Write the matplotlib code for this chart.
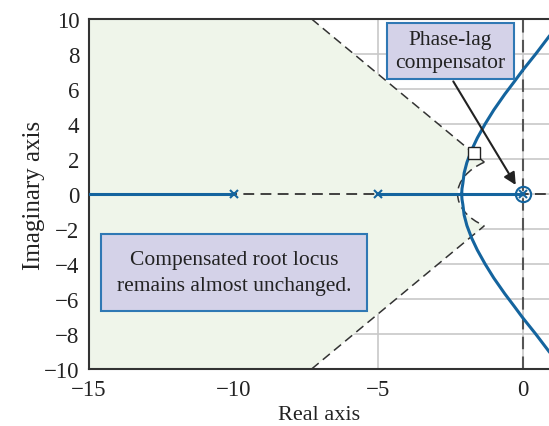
import numpy as np
import matplotlib.pyplot as plt
from matplotlib.patches import Wedge, Arc, Rectangle

# Polos em malha aberta e compensador
polos = [-10, -5]
polo_comp = 0.0
zero_comp = 0.0

# Ramos complexos do lugar das raízes
ramo_sup_x = [-2.11, -2.10, -2.07, -2.025, -1.93, -1.77, -1.57, -1.30, -1.00, -0.62, -0.30, 0.0, 0.45, 0.91]
ramo_sup_y = [0.0, 0.3, 0.6, 1.2, 1.8, 2.5, 3.2, 4.0, 4.8, 5.7, 6.4, 7.07, 8.0, 9.0]
ramo_inf_x = [-2.11, -2.10, -2.07, -2.025, -1.93, -1.77, -1.57, -1.30, -1.00, -0.62, -0.30, 0.0, 0.45, 0.91]
ramo_inf_y = [0.0, -0.3, -0.6, -1.2, -1.8, -2.5, -3.2, -4.0, -4.8, -5.7, -6.4, -7.07, -8.0, -9.0]

# Trechos no eixo real
eixo_real_azul = [(-15, -10), (-5, 0)]

# Região de projeto (zeta e wn)
x_topo = -7.3
raio_wn = 2.25
ponto_proj = (-1.70, 2.34)

xticks = [-15, -10, -5, 0]
yticks = [-10, -8, -6, -4, -2, 0, 2, 4, 6, 8, 10]

azul = '#14649e'
escuro = '#333333'
plt.rcParams['font.family'] = ['Liberation Serif', 'DejaVu Serif']

fig = plt.figure(figsize=(5.49, 4.27), dpi=100)
ax = fig.add_axes([89/549, 57/427, 460/549, 350/427])
ax.set_xlim(-15, 0.91)
ax.set_ylim(-10, 10)

# Grade
ax.set_xticks(xticks)
ax.set_yticks(yticks)
ax.set_yticklabels([str(v).replace('-', '\u2212') for v in yticks])
ax.set_xticklabels([str(v).replace('-', '\u2212') for v in xticks])
ax.grid(True, color='#c8c8c8', lw=1.2)
ax.set_axisbelow(True)
ax.tick_params(length=0, labelsize=16.5, pad=7, colors='#222222')

# Região sombreada
ang = np.degrees(np.arctan2(10, -x_topo))
ax.add_patch(Wedge((0, 0), 40, 180 - ang, 180 + ang, width=40 - raio_wn,
                   facecolor='#eff5ea', edgecolor='none', zorder=1))
xs = raio_wn * np.cos(np.radians(180 - ang))
ys = raio_wn * np.sin(np.radians(180 - ang))
trac = (0, (6, 3.5))
ax.plot([x_topo, xs], [10, ys], color=escuro, lw=1.1, ls=trac, zorder=2)
ax.plot([x_topo, xs], [-10, -ys], color=escuro, lw=1.1, ls=trac, zorder=2)
ax.add_patch(Arc((0, 0), 2 * raio_wn, 2 * raio_wn, theta1=180 - ang, theta2=180 + ang,
                 color=escuro, lw=1.1, ls=trac, zorder=2))

# Eixos tracejados
ax.axhline(0, color=escuro, lw=1.3, ls=trac, zorder=2)
ax.axvline(0, color='#555555', lw=1.5, ls=trac, zorder=2)

# Lugar das raízes
for a, b in eixo_real_azul:
    ax.plot([a, b], [0, 0], color=azul, lw=2.2, zorder=3)
ax.plot(ramo_sup_x, ramo_sup_y, color=azul, lw=2.2, zorder=3)
ax.plot(ramo_inf_x, ramo_inf_y, color=azul, lw=2.2, zorder=3)
ax.plot(polos, [0, 0], 'x', color=azul, ms=6, mew=1.5, zorder=4)
ax.plot([polo_comp], [0], 'x', color=azul, ms=6, mew=1.5, zorder=4)
ax.plot([zero_comp], [0], 'o', mfc='none', mec=azul, ms=11, mew=1.5, zorder=4)
ax.plot([ponto_proj[0]], [ponto_proj[1]], 's', mfc='white', mec='#222222', ms=8, mew=1, zorder=5)

# Caixas de texto
ax.add_patch(Rectangle((-4.71, 6.57), 4.41, 3.2, facecolor='#d4d2e8', edgecolor='#2f78b4',
                       lw=1.5, zorder=6))
ax.text(-2.5, 8.17, 'Phase-lag\ncompensator', ha='center', va='center', fontsize=15.5,
        color='#222222', linespacing=1.35, zorder=7)
ax.add_patch(Rectangle((-14.58, -6.69), 9.18, 4.4, facecolor='#d4d2e8', edgecolor='#2f78b4',
                       lw=1.5, zorder=6))
ax.text(-9.99, -4.49, 'Compensated root locus\nremains almost unchanged.', ha='center',
        va='center', fontsize=15.5, color='#222222', linespacing=1.45, zorder=7)
ax.annotate('', xy=(-0.19, 0.38), xytext=(-2.45, 6.57),
            arrowprops=dict(arrowstyle='-|>', color='#222222', lw=1.5, mutation_scale=18),
            zorder=8)

for lado in ['top', 'bottom', 'left']:
    ax.spines[lado].set_color(escuro)
    ax.spines[lado].set_linewidth(1.5)
ax.spines['right'].set_visible(False)

ax.set_xlabel('Real axis', fontsize=16, color='#222222', labelpad=4)
ax.set_ylabel('Imaginary axis', fontsize=18, color='#222222', labelpad=-1)

plt.savefig('out.png', dpi=100)
